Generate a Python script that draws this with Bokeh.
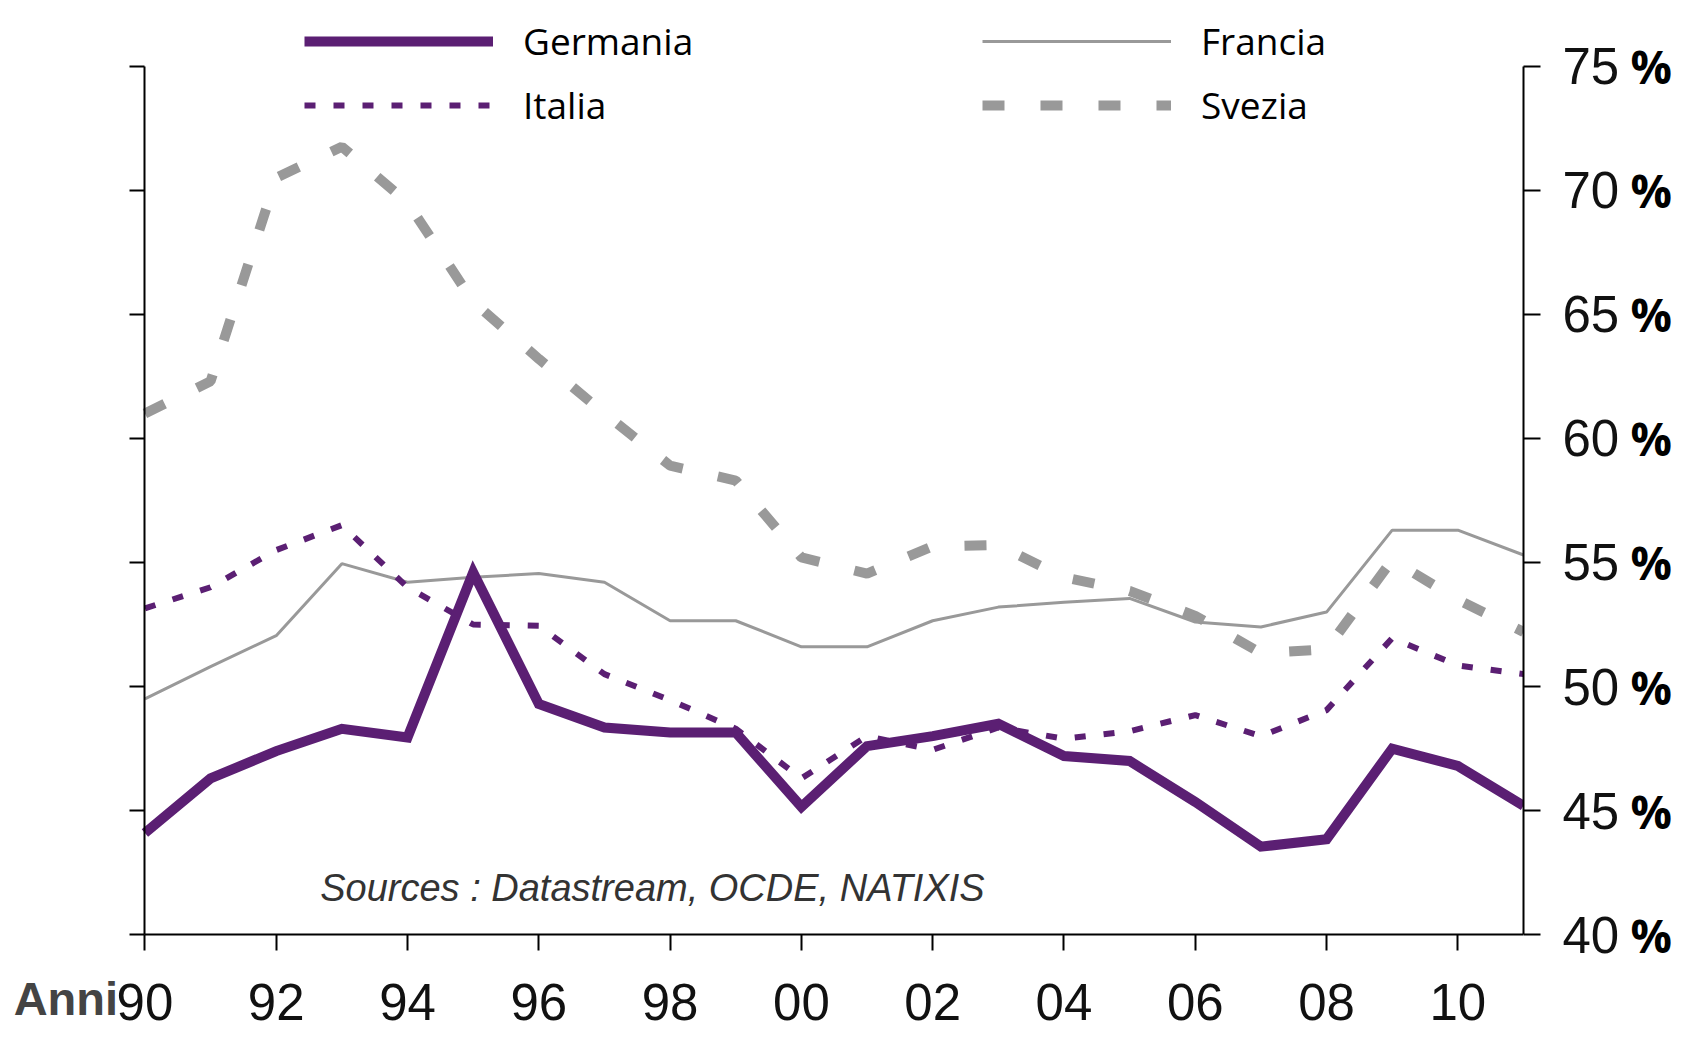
from bokeh.plotting import figure
from bokeh.models import Range1d, LinearAxis, FixedTicker, Legend, LegendItem, Label
from bokeh.embed import file_html
from bokeh.resources import INLINE

# ---------------- data ----------------
years = list(range(1990, 2012))
germania = [44.1, 46.3, 47.4, 48.3, 47.95, 54.6, 49.3, 48.35, 48.15, 48.15, 45.15,
            47.6, 48.0, 48.5, 47.2, 47.0, 45.35, 43.55, 43.85, 47.5, 46.8, 45.2]
italia = [53.15, 54.0, 55.5, 56.5, 54.0, 52.5, 52.45, 50.5, 49.45, 48.3, 46.3,
          48.0, 47.45, 48.35, 47.9, 48.2, 48.85, 48.0, 49.05, 51.95, 50.85, 50.5]
francia = [49.5, 50.8, 52.05, 54.95, 54.2, 54.4, 54.55, 54.2, 52.65, 52.65, 51.6,
           51.6, 52.65, 53.2, 53.4, 53.55, 52.6, 52.4, 53.0, 56.3, 56.3, 55.3]
svezia = [61.0, 62.3, 70.5, 71.75, 69.5, 65.5, 63.2, 61.0, 58.9, 58.3, 55.2,
          54.55, 55.65, 55.7, 54.4, 53.85, 52.85, 51.35, 51.5, 55.1, 53.5, 52.2]

x_ticks = [1990, 1992, 1994, 1996, 1998, 2000, 2002, 2004, 2006, 2008, 2010]
x_tick_labels = ["90", "92", "94", "96", "98", "00", "02", "04", "06", "08", "10"]
y_ticks = [40, 45, 50, 55, 60, 65, 70, 75]
y_tick_labels = ["40", "45", "50", "55", "60", "65", "70", "75"]
series_names = ["Germania", "Italia", "Francia", "Svezia"]
source_note = "Sources : Datastream, OCDE, NATIXIS"
x_title = "Anni"

PURPLE = "#5B1F73"
GRAY = "#999999"

X0, X1 = 1990, 2011
Y0, Y1 = 40, 75

W, H = 1690, 1038
p = figure(width=W, height=H,
           x_range=Range1d(1987.8, X1), y_range=Range1d(35.82, 77.64),
           output_backend="svg", toolbar_location=None,
           min_border_left=0, min_border_right=167,
           min_border_bottom=0, min_border_top=0)
p.outline_line_color = None
p.grid.visible = False
p.background_fill_color = "white"
p.border_fill_color = "white"

r_sve = p.line(years, svezia, line_color=GRAY, line_width=10, line_dash="22 36")
r_fra = p.line(years, francia, line_color=GRAY, line_width=3)
r_ita = p.line(years, italia, line_color=PURPLE, line_width=6, line_dash="11 18")
r_ger = p.line(years, germania, line_color=PURPLE, line_width=10, line_join="miter")

# x axis, fixed at y = 40
xa = p.xaxis[0]
xa.fixed_location = Y0
xa.ticker = FixedTicker(ticks=x_ticks)
xa.major_label_overrides = dict(zip(x_ticks, x_tick_labels))
xa.bounds = (X0, X1)
xa.axis_line_width = 2
xa.axis_line_color = "black"
xa.major_tick_out = 16
xa.major_tick_in = 0
xa.major_tick_line_width = 2
xa.major_tick_line_color = "black"
xa.minor_tick_line_color = None
xa.major_label_text_font = "Liberation Sans"
xa.major_label_text_font_size = "51px"
xa.major_label_text_color = "#111111"
xa.major_label_standoff = 33

# left axis (ticks only), fixed at x = 1990
ya = p.yaxis[0]
ya.fixed_location = X0
ya.ticker = FixedTicker(ticks=y_ticks)
ya.bounds = (Y0, Y1)
ya.axis_line_width = 2
ya.axis_line_color = "black"
ya.major_tick_out = 15
ya.major_tick_in = 0
ya.major_tick_line_width = 2
ya.major_tick_line_color = "black"
ya.minor_tick_line_color = None
ya.major_label_text_color = None

# right axis with numbers
ra = LinearAxis(ticker=FixedTicker(ticks=y_ticks), bounds=(Y0, Y1))
ra.major_label_overrides = dict(zip(y_ticks, y_tick_labels))
ra.axis_line_width = 2
ra.axis_line_color = "black"
ra.major_tick_out = 17
ra.major_tick_in = 0
ra.major_tick_line_width = 2
ra.major_tick_line_color = "black"
ra.minor_tick_line_color = None
ra.major_label_text_font = "Liberation Sans"
ra.major_label_text_font_size = "51px"
ra.major_label_text_color = "#111111"
ra.major_label_standoff = 22
p.add_layout(ra, "right")

# percent signs
pa = LinearAxis(ticker=FixedTicker(ticks=y_ticks), bounds=(Y0, Y1))
pa.major_label_overrides = {t: "%" for t in y_ticks}
pa.axis_line_color = None
pa.major_tick_line_color = None
pa.minor_tick_line_color = None
pa.major_tick_out = 0
pa.major_tick_in = 0
pa.major_label_standoff = 8
pa.major_label_text_font = "Open Sans"
pa.major_label_text_font_style = "bold"
pa.major_label_text_font_size = "46px"
pa.major_label_text_color = "black"
p.add_layout(pa, "right")

def make_legend(items, loc):
    lg = Legend(items=items, location=loc, orientation="vertical",
                glyph_width=189, glyph_height=50, label_height=50,
                label_standoff=30, spacing=13, padding=0, margin=0,
                border_line_color=None, background_fill_alpha=0,
                label_text_font="Open Sans", label_text_font_size="37px",
                label_text_color="black")
    return lg

leg1 = make_legend([LegendItem(label=series_names[0], renderers=[r_ger]),
                    LegendItem(label=series_names[1], renderers=[r_ita])], (304, 908))
leg2 = make_legend([LegendItem(label=series_names[2], renderers=[r_fra]),
                    LegendItem(label=series_names[3], renderers=[r_sve])], (982, 908))
p.add_layout(leg1)
p.add_layout(leg2)

p.add_layout(Label(x=1992.67, y=41.9, text=source_note,
                   text_font="Liberation Sans", text_font_style="italic",
                   text_font_size="38px", text_color="#333333",
                   text_baseline="alphabetic"))

p.add_layout(Label(x=1988.0, y=37.44, text=x_title,
                   text_font="Liberation Sans", text_font_style="bold",
                   text_font_size="47px", text_color="#444444",
                   text_baseline="alphabetic"))

open("out.html", "w").write(file_html(p, INLINE))
